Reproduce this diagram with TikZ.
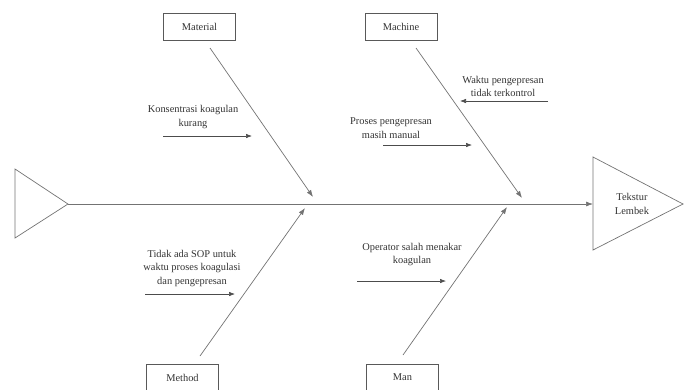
\documentclass[tikz,border=0pt]{standalone}
\usepackage{fontspec}
\setmainfont{Liberation Serif}
\usetikzlibrary{arrows.meta}
\begin{document}
\begin{tikzpicture}[x=1pt,y=-1pt,
  line width=0.7pt,
  bone/.style={draw=black!55},
  catbox/.style={draw=black!65, minimum width=72pt, minimum height=27pt, inner sep=0pt, font=\fontsize{10.4}{12}\selectfont, text=black!80},
  cause/.style={align=center, inner sep=0pt, font=\fontsize{10.4}{13.5}\selectfont, text=black!80},
  causearrow/.style={draw=black!70, line width=0.6pt, -{Latex[length=6pt,width=4.5pt]}},
  bonearrow/.style={bone, -{Latex[length=7pt,width=5pt]}}]
\useasboundingbox (0,0) rectangle (684,389);

% head and tail triangles
\coordinate (tailtop) at (15,169);
\coordinate (tailbot) at (15,238);
\coordinate (tailtip) at (68,204);
\coordinate (headtop) at (593,157);
\coordinate (headbot) at (593,250);
\coordinate (headtip) at (683,204);
\coordinate (headin) at (593,204);
\draw[bone] (tailtop) -- (tailtip) -- (tailbot) -- cycle;
\draw[bone] (headtop) -- (headtip) -- (headbot) -- cycle;
\node[cause] (effect) at (632,204) {Tekstur\\Lembek};

% spine
\draw[bone, -{Latex[length=7pt,width=5pt]}] (tailtip) -- (headin);

% category boxes
\node[catbox] (material) at (199.5,26.5) {Material};
\node[catbox] (machine) at (401,26.5) {Machine};
\node[catbox] (method) at (182.5,377.5) {Method};
\node[catbox] (man) at (402.5,377.5) {Man};

% bones
\coordinate (matS) at (210,48);  \coordinate (matE) at (313,197);
\coordinate (macS) at (416,48);  \coordinate (macE) at (522,198);
\coordinate (metS) at (200,356); \coordinate (metE) at (305,208);
\coordinate (manS) at (403,355); \coordinate (manE) at (507,207);
\draw[bonearrow] (matS) -- (matE);
\draw[bonearrow] (macS) -- (macE);
\draw[bonearrow] (metS) -- (metE);
\draw[bonearrow] (manS) -- (manE);

% causes
\node[cause] (c1) at (193,117) {Konsentrasi koagulan\\kurang};
\coordinate (c1a) at (163,136); \coordinate (c1b) at (252,136);
\draw[causearrow] (c1a) -- (c1b);

\node[cause] (c2) at (503,86.5) {Waktu pengepresan\\tidak terkontrol};
\coordinate (c2a) at (548,101); \coordinate (c2b) at (460,101);
\draw[causearrow] (c2a) -- (c2b);

\node[cause] (c3) at (391,128) {Proses pengepresan\\masih manual};
\coordinate (c3a) at (383,145); \coordinate (c3b) at (472,145);
\draw[causearrow] (c3a) -- (c3b);

\node[cause] (c4) at (192,268.5) {Tidak ada SOP untuk\\waktu proses koagulasi\\dan pengepresan};
\coordinate (c4a) at (145,294); \coordinate (c4b) at (235,294);
\draw[causearrow] (c4a) -- (c4b);

\node[cause] (c5) at (412,254.5) {Operator salah menakar\\koagulan};
\coordinate (c5a) at (357,281); \coordinate (c5b) at (446,281);
\draw[causearrow] (c5a) -- (c5b);
\end{tikzpicture}
\end{document}
